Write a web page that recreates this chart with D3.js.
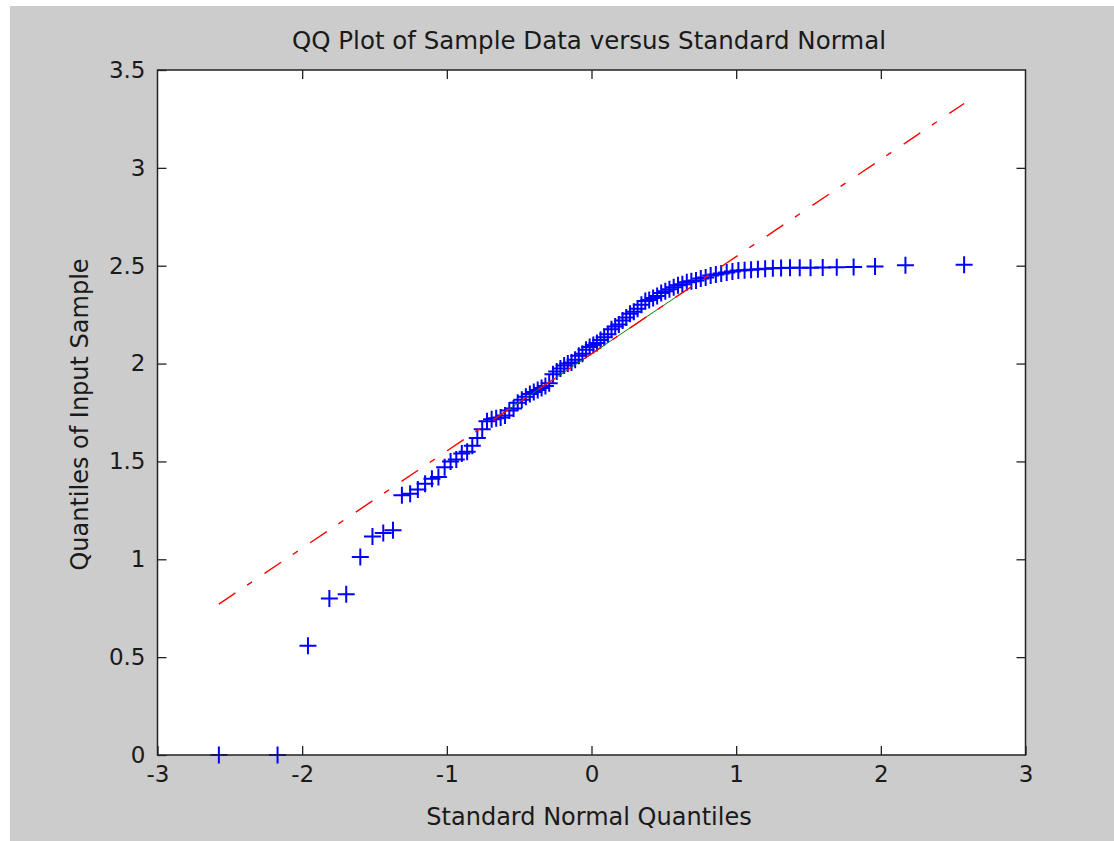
<!DOCTYPE html>
<html>
<head>
<meta charset="utf-8">
<script src="https://cdn.jsdelivr.net/npm/d3@7"></script>
<style>
  body { margin: 0; background: #ffffff; }
  svg text { font-family: "DejaVu Sans", Verdana, sans-serif; fill: #1a1a1a; }
</style>
</head>
<body>
<div id="chart"></div>
<script>
// Axis ticks
const xTicks = [-3, -2, -1, 0, 1, 2, 3]
const yTicks = [0, 0.5, 1, 1.5, 2, 2.5, 3, 3.5]

// Standard normal quantiles (x of each point, n = 100)
const normalQuantiles = [
  -2.5758, -2.1701, -1.9600, -1.8119, -1.6954, -1.5982, -1.5141, -1.4395, -1.3722, -1.3106,
  -1.2536, -1.2004, -1.1503, -1.1031, -1.0581, -1.0152, -0.9741, -0.9346, -0.8965, -0.8596,
  -0.8239, -0.7892, -0.7554, -0.7225, -0.6903, -0.6588, -0.6280, -0.5978, -0.5681, -0.5388,
  -0.5101, -0.4817, -0.4538, -0.4261, -0.3989, -0.3719, -0.3451, -0.3186, -0.2924, -0.2663,
  -0.2404, -0.2147, -0.1891, -0.1637, -0.1383, -0.1130, -0.0878, -0.0627, -0.0376, -0.0125,
   0.0125,  0.0376,  0.0627,  0.0878,  0.1130,  0.1383,  0.1637,  0.1891,  0.2147,  0.2404,
   0.2663,  0.2924,  0.3186,  0.3451,  0.3719,  0.3989,  0.4261,  0.4538,  0.4817,  0.5101,
   0.5388,  0.5681,  0.5978,  0.6280,  0.6588,  0.6903,  0.7225,  0.7554,  0.7892,  0.8239,
   0.8596,  0.8965,  0.9346,  0.9741,  1.0152,  1.0581,  1.1031,  1.1503,  1.2004,  1.2536,
   1.3106,  1.3722,  1.4395,  1.5141,  1.5982,  1.6954,  1.8119,  1.9600,  2.1701,  2.5758
]

// Sorted sample values (y of each point)
const sampleQuantiles = [
  0.000, 0.000, 0.558, 0.800, 0.821, 1.012, 1.117, 1.134, 1.148, 1.327,
  1.335, 1.356, 1.386, 1.412, 1.420, 1.470, 1.500, 1.510, 1.540, 1.550,
  1.580, 1.620, 1.665, 1.705, 1.715, 1.720, 1.725, 1.735, 1.760, 1.770,
  1.800, 1.815, 1.830, 1.845, 1.855, 1.865, 1.875, 1.885, 1.900, 1.945,
  1.960, 1.975, 1.990, 2.000, 2.005, 2.020, 2.040, 2.050, 2.070, 2.085,
  2.095, 2.105, 2.120, 2.135, 2.150, 2.175, 2.190, 2.200, 2.220, 2.235,
  2.255, 2.265, 2.280, 2.300, 2.320, 2.325, 2.335, 2.345, 2.360, 2.370,
  2.380, 2.390, 2.400, 2.405, 2.415, 2.420, 2.425, 2.435, 2.440, 2.450,
  2.455, 2.460, 2.465, 2.470, 2.475, 2.477, 2.480, 2.482, 2.485, 2.487,
  2.488, 2.489, 2.490, 2.490, 2.491, 2.492, 2.494, 2.496, 2.503, 2.505
]

// Reference line: solid part between the quartiles, dash-dot over the full range
const quartileX = [-0.6745, 0.6745]
const quartileY = [1.715, 2.385]
const fitX = [-2.5758, 2.5758]
const fitY = [0.771, 3.329]

// Set up svg
const W = 1114, H = 841
const svg = d3.select("#chart").append("svg")
    .attr("width", W)
    .attr("height", H)

// gray figure background
svg.append("rect")
    .attr("x", 10).attr("y", 6)
    .attr("width", W - 10).attr("height", H - 6)
    .attr("fill", "#cccccc")

const plotLeft = 157.5, plotRight = 1025.5, plotTop = 70, plotBottom = 755

const x = d3.scaleLinear().domain([-3, 3]).range([plotLeft, plotRight])
const y = d3.scaleLinear().domain([0, 3.5]).range([plotBottom, plotTop])

// white plot area
svg.append("rect")
    .attr("x", plotLeft).attr("y", plotTop)
    .attr("width", plotRight - plotLeft).attr("height", plotBottom - plotTop)
    .attr("fill", "#ffffff")

// markers ('+')
const half = 8.5
svg.append("g")
    .selectAll("path")
    .data(normalQuantiles.map((d, i) => [d, sampleQuantiles[i]]))
    .join("path")
    .attr("d", d => `M${x(d[0]) - half},${y(d[1])}H${x(d[0]) + half}M${x(d[0])},${y(d[1]) - half}V${y(d[1]) + half}`)
    .attr("stroke", "#0000ff")
    .attr("stroke-width", 2)
    .attr("fill", "none")

// green quartile segment
const line = d3.line().x(d => x(d[0])).y(d => y(d[1]))
svg.append("path")
    .datum(quartileX.map((d, i) => [d, quartileY[i]]))
    .attr("d", line)
    .attr("stroke", "#008000")
    .attr("stroke-width", 1)
    .attr("fill", "none")

// red dash-dot extension
svg.append("path")
    .datum(fitX.map((d, i) => [d, fitY[i]]))
    .attr("d", line)
    .attr("stroke", "#ff0000")
    .attr("stroke-width", 1.4)
    .attr("stroke-dasharray", "20,14,6,15")
    .attr("fill", "none")

// Axes (ticks pointing inwards, on all four sides)
const fmt = d => String(d)
const tickLen = 9

function styleAxis(g) {
    g.select(".domain").remove()
    g.selectAll(".tick line").attr("stroke", "#222").attr("stroke-width", 1.3)
    g.selectAll(".tick text").style("font-size", "23px").attr("fill", "#1a1a1a")
}

svg.append("g")
    .attr("transform", `translate(0,${plotBottom})`)
    .call(d3.axisBottom(x).tickValues(xTicks).tickFormat(fmt).tickSizeInner(-tickLen).tickSizeOuter(0).tickPadding(11))
    .call(styleAxis)

svg.append("g")
    .attr("transform", `translate(0,${plotTop})`)
    .call(d3.axisTop(x).tickValues(xTicks.slice(1, -1)).tickFormat("").tickSizeInner(-tickLen).tickSizeOuter(0))
    .call(styleAxis)

svg.append("g")
    .attr("transform", `translate(${plotLeft},0)`)
    .call(d3.axisLeft(y).tickValues(yTicks).tickFormat(fmt).tickSizeInner(-tickLen).tickSizeOuter(0).tickPadding(12))
    .call(styleAxis)

svg.append("g")
    .attr("transform", `translate(${plotRight},0)`)
    .call(d3.axisRight(y).tickValues(yTicks.slice(1, -1)).tickFormat("").tickSizeInner(-tickLen).tickSizeOuter(0))
    .call(styleAxis)

// box
svg.append("rect")
    .attr("x", plotLeft).attr("y", plotTop)
    .attr("width", plotRight - plotLeft).attr("height", plotBottom - plotTop)
    .attr("fill", "none")
    .attr("stroke", "#222")
    .attr("stroke-width", 1.5)

// Titles
svg.append("text")
    .attr("x", 589).attr("y", 49)
    .attr("text-anchor", "middle")
    .style("font-size", "24.5px")
    .text("QQ Plot of Sample Data versus Standard Normal")

svg.append("text")
    .attr("x", 589).attr("y", 825)
    .attr("text-anchor", "middle")
    .style("font-size", "24px")
    .text("Standard Normal Quantiles")

svg.append("text")
    .attr("transform", `translate(88,${(plotTop + plotBottom) / 2 + 2}) rotate(-90)`)
    .attr("text-anchor", "middle")
    .style("font-size", "24px")
    .text("Quantiles of Input Sample")
</script>
</body>
</html>
